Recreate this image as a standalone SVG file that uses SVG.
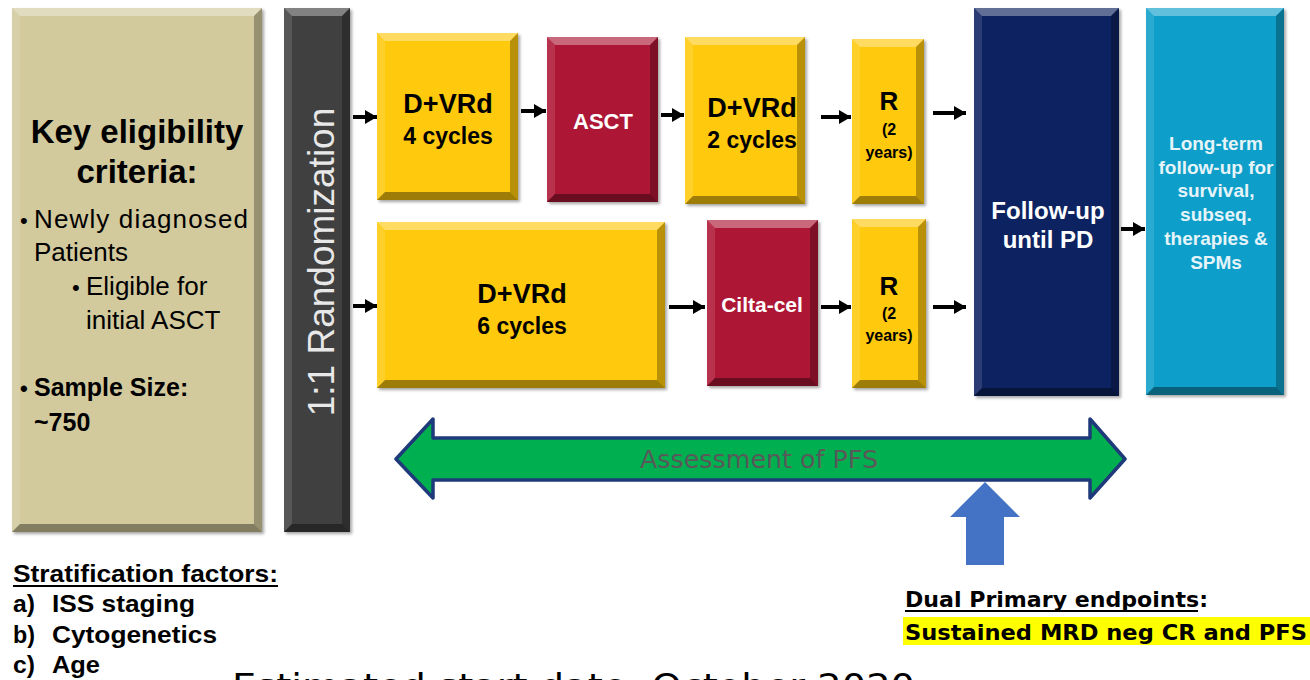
<svg xmlns="http://www.w3.org/2000/svg" width="1310" height="680" viewBox="0 0 1310 680">
<defs>
<style>
.hl{fill:#ffffff;fill-opacity:0.35}
.hs{fill:#ffffff;fill-opacity:0.12}
.dr{fill:#000000;fill-opacity:0.28}
.db{fill:#000000;fill-opacity:0.38}
.t{font-family:"Liberation Sans",Arial,sans-serif}
.b{font-weight:bold}
.dk{fill:#000000}
.wh{fill:#ffffff}
.conn line{stroke:#000;stroke-width:4}
</style>
<filter id="sh" x="-5%" y="-5%" width="115%" height="115%">
<feDropShadow dx="2" dy="2" stdDeviation="1.5" flood-color="#000" flood-opacity="0.35"/>
</filter>
<marker id="ah" markerUnits="userSpaceOnUse" markerWidth="12" markerHeight="14" refX="12" refY="7" orient="auto">
<path d="M0,0 L12,7 L0,14 z" fill="#000"/>
</marker>
</defs>
<rect width="1310" height="680" fill="#ffffff"/>

<g id="eligibility">
<rect x="12" y="8" width="250" height="524" fill="#d2c99d" filter="url(#sh)"/>
<polygon class="hl" points="12,8 262,8 254,16 20,16"/><polygon class="hs" points="12,8 20,16 20,524 12,532"/><polygon class="dr" points="262,8 262,532 254,524 254,16"/><polygon class="db" points="12,532 262,532 254,524 20,524"/>
<text class="t b dk" x="137" y="143" font-size="33" text-anchor="middle">Key eligibility</text>
<text class="t b dk" x="137" y="183" font-size="33" text-anchor="middle">criteria:</text>
<text class="t dk" x="20" y="228" font-size="22">•</text>
<text class="t dk" x="34" y="228" font-size="26" textLength="214">Newly diagnosed</text>
<text class="t dk" x="34" y="261" font-size="26">Patients</text>
<text class="t dk" x="72" y="295" font-size="22">•</text>
<text class="t dk" x="86" y="295" font-size="26">Eligible for</text>
<text class="t dk" x="86" y="329" font-size="26">initial ASCT</text>
<text class="t b dk" x="20" y="396" font-size="22">•</text>
<text class="t b dk" x="34" y="396" font-size="25">Sample Size:</text>
<text class="t b dk" x="34" y="431" font-size="25">~750</text>
</g>

<g id="randomization">
<rect x="284" y="8" width="66" height="524" fill="#404040" filter="url(#sh)"/>
<polygon class="hl" points="284,8 350,8 342,16 292,16"/><polygon class="hs" points="284,8 292,16 292,524 284,532"/><polygon class="dr" points="350,8 350,532 342,524 342,16"/><polygon class="db" points="284,532 350,532 342,524 292,524"/>
<text class="t" fill="#e8e8e8" font-size="37" text-anchor="middle" transform="translate(334,262) rotate(-90)">1:1 Randomization</text>
</g>

<g id="dvrd4">
<rect x="377" y="33" width="141" height="167" fill="#ffc90a" filter="url(#sh)"/>
<polygon class="hl" points="377,33 518,33 510,41 385,41"/><polygon class="hs" points="377,33 385,41 385,192 377,200"/><polygon class="dr" points="518,33 518,200 510,192 510,41"/><polygon class="db" points="377,200 518,200 510,192 385,192"/>
<text class="t b dk" x="448" y="113" font-size="27" text-anchor="middle">D+VRd</text>
<text class="t b dk" x="448" y="144" font-size="23" text-anchor="middle">4 cycles</text>
</g>

<g id="asct">
<rect x="547" y="37" width="111" height="165" fill="#ad1535" filter="url(#sh)"/>
<polygon class="hl" points="547,37 658,37 650,45 555,45"/><polygon class="hs" points="547,37 555,45 555,194 547,202"/><polygon class="dr" points="658,37 658,202 650,194 650,45"/><polygon class="db" points="547,202 658,202 650,194 555,194"/>
<text class="t b wh" x="603" y="129" font-size="22" text-anchor="middle">ASCT</text>
</g>

<g id="dvrd2">
<rect x="685" y="37" width="120" height="167" fill="#ffc90a" filter="url(#sh)"/>
<polygon class="hl" points="685,37 805,37 797,45 693,45"/><polygon class="hs" points="685,37 693,45 693,196 685,204"/><polygon class="dr" points="805,37 805,204 797,196 797,45"/><polygon class="db" points="685,204 805,204 797,196 693,196"/>
<text class="t b dk" x="752" y="117" font-size="27" text-anchor="middle">D+VRd</text>
<text class="t b dk" x="752" y="148" font-size="23" text-anchor="middle">2 cycles</text>
</g>

<g id="r1">
<rect x="852" y="39" width="72" height="165" fill="#ffc90a" filter="url(#sh)"/>
<polygon class="hl" points="852,39 924,39 916,47 860,47"/><polygon class="hs" points="852,39 860,47 860,196 852,204"/><polygon class="dr" points="924,39 924,204 916,196 916,47"/><polygon class="db" points="852,204 924,204 916,196 860,196"/>
<text class="t b dk" x="889" y="110" font-size="26" text-anchor="middle">R</text>
<text class="t b dk" x="889" y="135" font-size="16" text-anchor="middle">(2</text>
<text class="t b dk" x="889" y="158" font-size="16" text-anchor="middle">years)</text>
</g>

<g id="dvrd6">
<rect x="377" y="222" width="288" height="166" fill="#ffc90a" filter="url(#sh)"/>
<polygon class="hl" points="377,222 665,222 657,230 385,230"/><polygon class="hs" points="377,222 385,230 385,380 377,388"/><polygon class="dr" points="665,222 665,388 657,380 657,230"/><polygon class="db" points="377,388 665,388 657,380 385,380"/>
<text class="t b dk" x="522" y="303" font-size="27" text-anchor="middle">D+VRd</text>
<text class="t b dk" x="522" y="334" font-size="23" text-anchor="middle">6 cycles</text>
</g>

<g id="ciltacel">
<rect x="707" y="220" width="111" height="166" fill="#ad1535" filter="url(#sh)"/>
<polygon class="hl" points="707,220 818,220 810,228 715,228"/><polygon class="hs" points="707,220 715,228 715,378 707,386"/><polygon class="dr" points="818,220 818,386 810,378 810,228"/><polygon class="db" points="707,386 818,386 810,378 715,378"/>
<text class="t b wh" x="762" y="312" font-size="21" text-anchor="middle">Cilta-cel</text>
</g>

<g id="r2">
<rect x="852" y="219" width="74" height="169" fill="#ffc90a" filter="url(#sh)"/>
<polygon class="hl" points="852,219 926,219 918,227 860,227"/><polygon class="hs" points="852,219 860,227 860,380 852,388"/><polygon class="dr" points="926,219 926,388 918,380 918,227"/><polygon class="db" points="852,388 926,388 918,380 860,380"/>
<text class="t b dk" x="889" y="295" font-size="26" text-anchor="middle">R</text>
<text class="t b dk" x="889" y="319" font-size="16" text-anchor="middle">(2</text>
<text class="t b dk" x="889" y="341" font-size="16" text-anchor="middle">years)</text>
</g>

<g id="followup">
<rect x="974" y="8" width="145" height="388" fill="#0b2461" filter="url(#sh)"/>
<polygon class="hl" points="974,8 1119,8 1111,16 982,16"/><polygon class="hs" points="974,8 982,16 982,388 974,396"/><polygon class="dr" points="1119,8 1119,396 1111,388 1111,16"/><polygon class="db" points="974,396 1119,396 1111,388 982,388"/>
<text class="t b wh" x="1048" y="219" font-size="24" text-anchor="middle">Follow-up</text>
<text class="t b wh" x="1048" y="248" font-size="24" text-anchor="middle">until PD</text>
</g>

<g id="longterm">
<rect x="1146" y="8" width="138" height="387" fill="#089fc9" filter="url(#sh)"/>
<polygon class="hl" points="1146,8 1284,8 1276,16 1154,16"/><polygon class="hs" points="1146,8 1154,16 1154,387 1146,395"/><polygon class="dr" points="1284,8 1284,395 1276,387 1276,16"/><polygon class="db" points="1146,395 1284,395 1276,387 1154,387"/>
<g class="t b" fill="#e6f4fa" font-size="19" text-anchor="middle">
<text x="1216" y="150">Long-term</text>
<text x="1216" y="174">follow-up for</text>
<text x="1216" y="197">survival,</text>
<text x="1216" y="221">subseq.</text>
<text x="1216" y="245">therapies &amp;</text>
<text x="1216" y="269">SPMs</text>
</g>
</g>

<g id="connectors" class="conn">
<line x1="353" y1="117" x2="377" y2="117" marker-end="url(#ah)"/>
<line x1="521" y1="111" x2="546" y2="111" marker-end="url(#ah)"/>
<line x1="661" y1="115" x2="684" y2="115" marker-end="url(#ah)"/>
<line x1="821" y1="117" x2="851" y2="117" marker-end="url(#ah)"/>
<line x1="933" y1="113" x2="966" y2="113" marker-end="url(#ah)"/>
<line x1="353" y1="306" x2="377" y2="306" marker-end="url(#ah)"/>
<line x1="669" y1="307" x2="705" y2="307" marker-end="url(#ah)"/>
<line x1="821" y1="307" x2="851" y2="307" marker-end="url(#ah)"/>
<line x1="933" y1="307" x2="966" y2="307" marker-end="url(#ah)"/>
<line x1="1121" y1="229" x2="1145" y2="229" marker-end="url(#ah)"/>
</g>

<g id="pfs">
<path d="M396,459 L433,419 L433,438 L1090,438 L1090,419 L1125,459 L1090,498 L1090,480 L433,480 L433,498 Z" fill="#00b050" stroke="#1f3a7a" stroke-width="3.5" stroke-linejoin="round"/>
<text x="759" y="468" font-family="'DejaVu Sans',Verdana,sans-serif" font-size="24" fill="#595959" text-anchor="middle" textLength="238" lengthAdjust="spacingAndGlyphs">Assessment of PFS</text>
</g>

<g id="endpoint-arrow">
<path d="M985,482 L1020,517 L1004,517 L1004,565 L966,565 L966,517 L950,517 Z" fill="#4472c4"/>
</g>

<g id="stratification" class="t b dk">
<text x="13" y="582" font-size="24" textLength="265" lengthAdjust="spacingAndGlyphs">Stratification factors:</text>
<line x1="13" y1="586" x2="278" y2="586" stroke="#000" stroke-width="2"/>
<text x="13" y="612" font-size="24" textLength="22" lengthAdjust="spacingAndGlyphs">a)</text>
<text x="52" y="612" font-size="24" textLength="143" lengthAdjust="spacingAndGlyphs">ISS staging</text>
<text x="13" y="643" font-size="24" textLength="22" lengthAdjust="spacingAndGlyphs">b)</text>
<text x="52" y="643" font-size="24" textLength="165" lengthAdjust="spacingAndGlyphs">Cytogenetics</text>
<text x="13" y="673" font-size="24" textLength="22" lengthAdjust="spacingAndGlyphs">c)</text>
<text x="52" y="673" font-size="24" textLength="48" lengthAdjust="spacingAndGlyphs">Age</text>
</g>

<g id="endpoints">
<text x="905" y="607" font-family="'DejaVu Sans',Verdana,sans-serif" font-weight="bold" font-size="21" fill="#000" textLength="303" lengthAdjust="spacingAndGlyphs">Dual Primary endpoints:</text>
<line x1="905" y1="611" x2="1198" y2="611" stroke="#000" stroke-width="2"/>
<rect x="903" y="617" width="407" height="28" fill="#ffff00"/>
<text x="905" y="640" font-family="'DejaVu Sans',Verdana,sans-serif" font-weight="bold" font-size="21" fill="#000" textLength="402" lengthAdjust="spacingAndGlyphs">Sustained MRD neg CR and PFS</text>
</g>

<text x="232" y="698" font-family="'DejaVu Sans',Verdana,sans-serif" font-size="34" fill="#000" textLength="683" lengthAdjust="spacingAndGlyphs">Estimated start date: October 2020</text>
</svg>
